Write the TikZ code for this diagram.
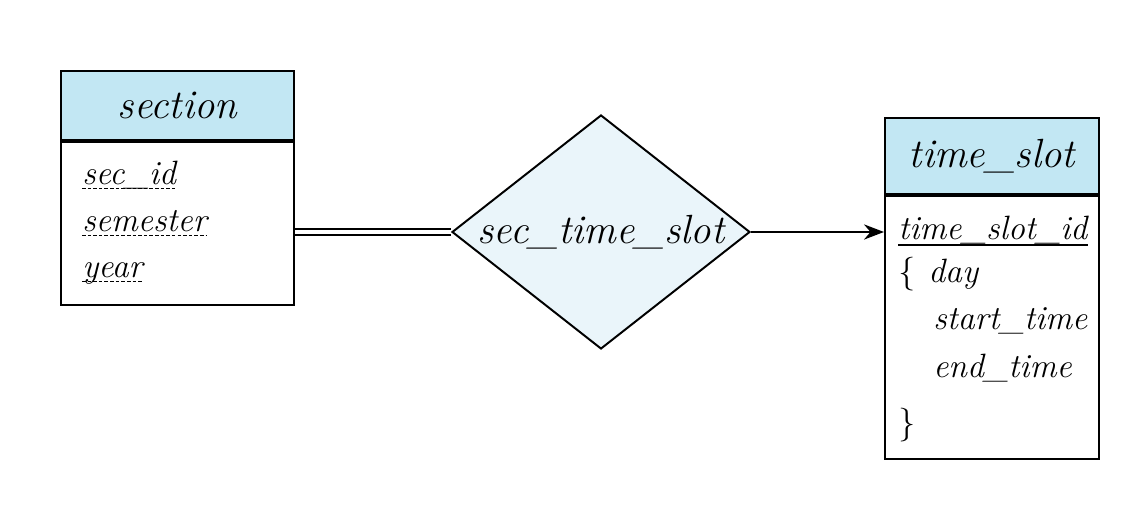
\documentclass[tikz,border=0pt]{standalone}
\usetikzlibrary{shapes.geometric,arrows.meta,positioning}
\definecolor{headblue}{RGB}{194,231,243}
\definecolor{relblue}{RGB}{234,245,250}

\begin{document}
\begin{tikzpicture}[font=\itshape,
        entityhead/.style={draw,fill=headblue,line width=1.4pt,inner sep=0pt,anchor=north west,font=\fontsize{29}{34}\selectfont\itshape},
        entitybody/.style={draw,fill=white,line width=1.4pt,inner sep=0pt,anchor=north},
        attr/.style={anchor=base west,inner sep=0pt,font=\fontsize{24}{28}\selectfont\itshape},
        discr/.style={line width=0.9pt,dash pattern=on 2.5pt off 1.5pt}]
        \useasboundingbox (0,0) rectangle (28.25,12.65);
        \node[entityhead,minimum width=5.825cm,minimum height=1.725cm] (section) at (1.5,10.9) {section};
        \node[entitybody,minimum width=5.825cm,minimum height=4.075cm] (sectionbody) at (section.south) {};
        \node[attr] (secid) at (2.05,8.025) {sec\_id};
        \node[attr] (semester) at (2.05,6.85) {semester};
        \node[attr] (year) at (2.05,5.7) {year};
        \foreach \a in {secid,semester,year}
            \draw[discr] ([yshift=-2.5pt]\a.base west) -- ([yshift=-2.5pt]\a.base east);
        \node[diamond,aspect=1.27,draw,fill=relblue,line width=1.4pt,inner sep=0pt,minimum width=7.45cm,minimum height=5.85cm,font=\fontsize{29}{34}\selectfont\itshape] (sectimeslot) at (15.025,6.85) {sec\_time\_slot};
        \node[entityhead,minimum width=5.35cm,minimum height=1.9cm] (timeslot) at (22.1,9.725) {time\_slot};
        \node[entitybody,minimum width=5.35cm,minimum height=6.575cm] (timeslotbody) at (timeslot.south) {};
        \node[attr] (timeslotid) at (22.45,6.65) {time\_slot\_id};
        \draw[line width=0.9pt] ([yshift=-3.5pt]timeslotid.base west) -- ([yshift=-3.5pt]timeslotid.base east);
        \node[attr] (lbrace) at (22.45,5.575) {\textup{\{}};
        \node[attr] (day) at (23.2,5.575) {day};
        \node[attr] (starttime) at (23.325,4.4) {start\_time};
        \node[attr] (endtime) at (23.325,3.2) {end\_time};
        \node[attr] (rbrace) at (22.45,1.8) {\textup{\}}};
        \draw[double,double distance=0.11cm,line width=1.1pt] (sectionbody.east |- sectimeslot.west) -- (sectimeslot.west);
        \draw[line width=1.4pt,-{Stealth[length=0.5cm,width=0.38cm]}] (sectimeslot.east) -- (timeslotbody.west |- sectimeslot.east);
    \end{tikzpicture}
\end{document}
